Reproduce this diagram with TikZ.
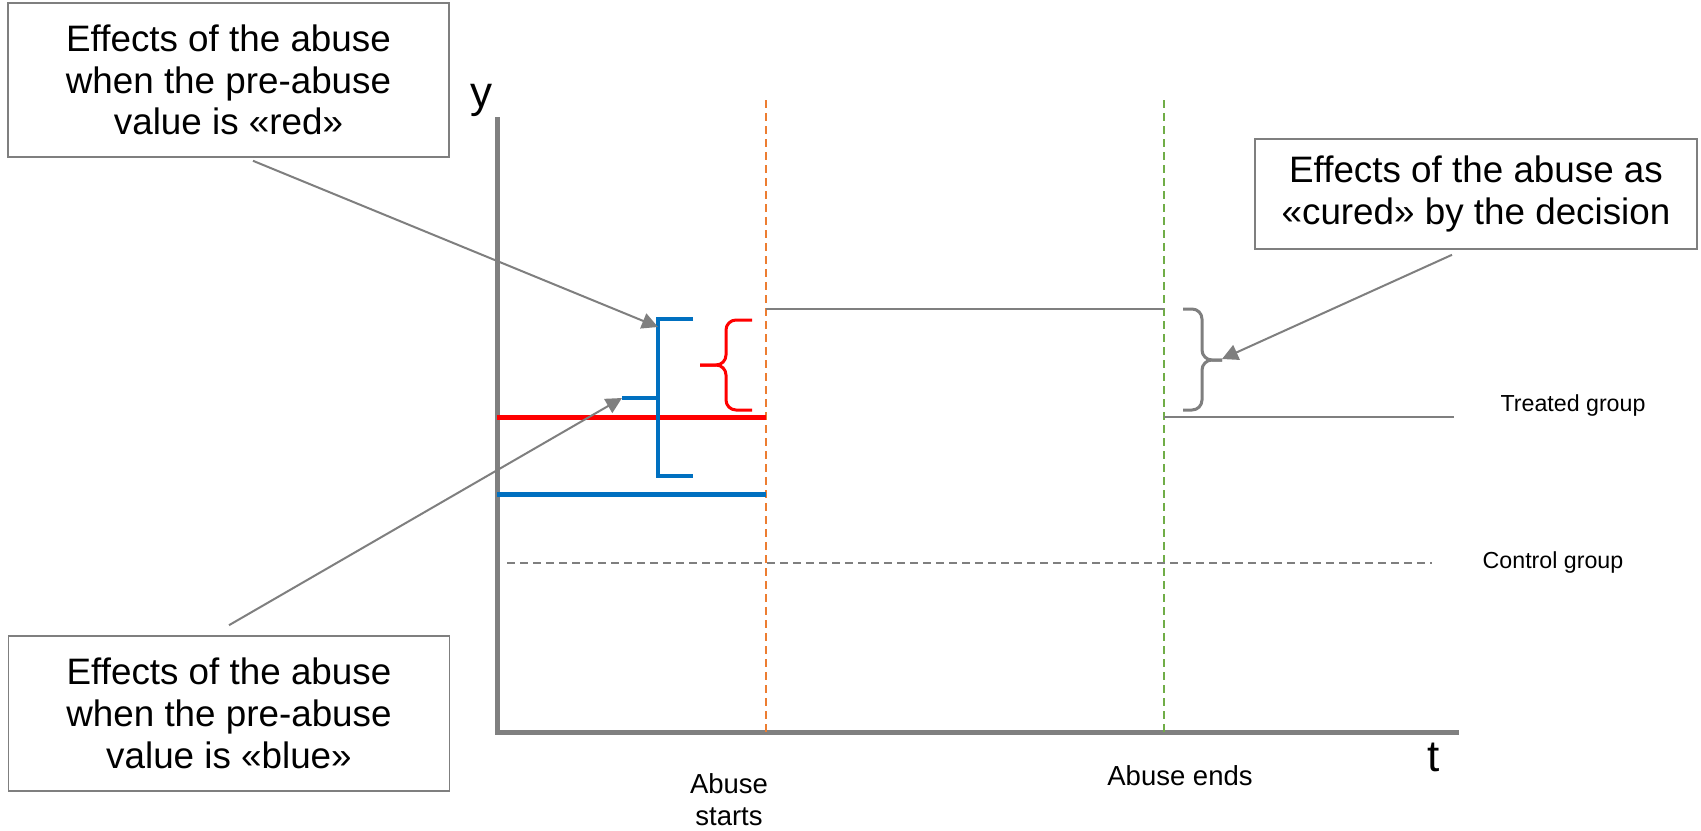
\documentclass[tikz,border=0pt]{standalone}
\usepackage{fontspec}
\setmainfont{Liberation Sans}
\usepackage{tikz}
\usetikzlibrary{calc,arrows.meta,positioning}

\definecolor{axisgray}{RGB}{128,128,128}
\definecolor{linegray}{RGB}{127,127,127}
\definecolor{abusered}{RGB}{255,0,0}
\definecolor{abuseblue}{RGB}{0,112,192}
\definecolor{startorange}{RGB}{237,125,49}
\definecolor{endgreen}{RGB}{112,173,71}

\begin{document}
\begin{tikzpicture}[x=0.5pt,y=-0.5pt,
	callout/.style={draw=linegray,line width=0.8pt,fill=white,align=center,minimum width=220.5pt,minimum height=77pt,inner sep=0pt,font=\fontsize{18.4}{20.9}\selectfont},
	pointer/.style={draw=linegray,line width=1pt,-{Triangle[length=8pt,width=8pt]}},
	axisline/.style={draw=axisgray,line width=2.5pt},
	axislabel/.style={font=\fontsize{22}{26}\selectfont,inner sep=0pt},
	timelabel/.style={font=\fontsize{13.75}{16}\selectfont,align=center,inner sep=0pt},
	grouplabel/.style={font=\fontsize{11.6}{14}\selectfont,inner sep=0pt},
	groupline/.style={line width=2.5pt},
	markline/.style={line width=1pt,dash pattern=on 4pt off 2.5pt},
	bracket/.style={line width=1.5pt,rounded corners=5pt}]
	\useasboundingbox (0,0) rectangle (1701,830);
	% axes
	\coordinate (origin) at (497,732);
	\draw[axisline] (497,117) -- (origin) -- (1459,732);
	\node[axislabel] (ylab) at (481,100) {y};
	\node[axislabel] (tlab) at (1434,757) {t};
	% start and end of the abuse
	\draw[markline,startorange] (766,100) -- (766,732);
	\draw[markline,endgreen] (1164,100) -- (1164,732);
	\node[timelabel] (starts) at (729,800) {Abuse\\starts};
	\node[timelabel] (ends) at (1180,776) {Abuse ends};
	% groups
	\draw[markline,linegray] (507,563) -- (1432,563);
	\node[grouplabel] (control) at (1553,562) {Control group};
	\draw[groupline,abusered] (497,417) -- (766,417);
	\draw[groupline,abuseblue] (497,494) -- (766,494);
	\draw[linegray,line width=1.2pt] (766,309) -- (1164,309);
	\draw[linegray,line width=1.2pt] (1164,417) -- (1454,417);
	\node[grouplabel] (treated) at (1573,405) {Treated group};
	% brackets
	\draw[abuseblue,line width=1.6pt] (693,319) -- (658,319) -- (658,476) -- (693,476);
	\draw[abuseblue,line width=1.6pt] (622,398) -- (658,398);
	\draw[bracket,abusered] (752,320) -| (726,365) -- (700,365);
	\draw[bracket,abusered] (700,365) -- (726,365) |- (752,410);
	\draw[bracket,linegray] (1183,309) -| (1202,360) -- (1222,360);
	\draw[bracket,linegray] (1222,360) -- (1202,360) |- (1183,410);
	% callouts
	\node[callout] (redbox) at (228.5,80) {Effects of the abuse\\when the pre-abuse\\value is «red»};
	\node[callout,minimum height=77.5pt] (bluebox) at (229,713.5) {Effects of the abuse\\when the pre-abuse\\value is «blue»};
	\node[callout,minimum width=221pt,minimum height=55pt] (curedbox) at (1476,194) {Effects of the abuse as\\«cured» by the decision};
	\coordinate (redtip) at (658,327);
	\coordinate (bluetip) at (622,398);
	\coordinate (curedtip) at (1222,359);
	\draw[pointer] ([xshift=12.25pt,yshift=-1.5pt]redbox.south) -- (redtip);
	\draw[pointer] ([yshift=5pt]bluebox.north) -- (bluetip);
	\draw[pointer] ([xshift=-12pt,yshift=-2.5pt]curedbox.south) -- (curedtip);
\end{tikzpicture}
\end{document}
